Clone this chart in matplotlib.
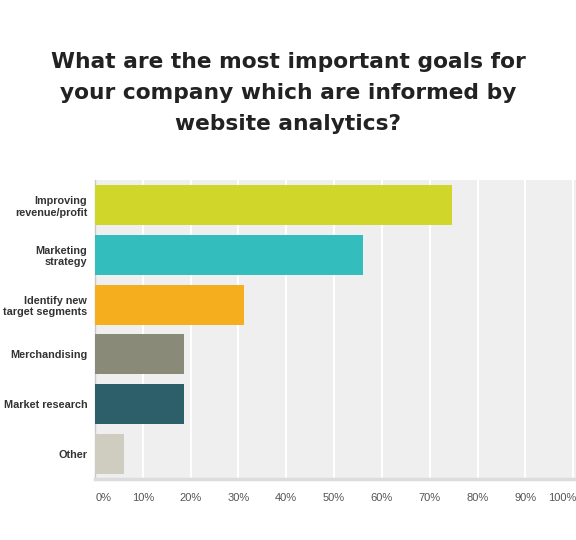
import matplotlib
matplotlib.use("Agg")
import matplotlib.pyplot as plt
from matplotlib.transforms import blended_transform_factory

categories = ["Improving\nrevenue/profit", "Marketing\nstrategy", "Identify new\ntarget segments",
              "Merchandising", "Market research", "Other"]
values = [74.7, 56.0, 31.1, 18.6, 18.6, 6.1]
colors = ["#D0D62A", "#33BDBD", "#F5AF1E", "#898A78", "#2D5F6B", "#CFCDC0"]
tick_values = [0, 10, 20, 30, 40, 50, 60, 70, 80, 90, 100]
tick_labels = ["0%", "10%", "20%", "30%", "40%", "50%", "60%", "70%", "80%", "90%", "100%"]
title = "What are the most important goals for\nyour company which are informed by\nwebsite analytics?"

W, H = 576, 540
fig = plt.figure(figsize=(W / 100, H / 100), dpi=100)
fig.patch.set_facecolor("white")
ax = fig.add_axes([95 / W, 1 - 479 / H, (576 - 95) / W, (479 - 180) / H])
ax.set_facecolor("#EFEFEF")

y = list(range(len(categories)))
ax.barh(y, values, height=0.8, color=colors, zorder=3)
ax.set_ylim(len(categories) - 0.5, -0.5)
ax.set_xlim(0, 100.6)

for t in tick_values[1:]:
    ax.axvline(t, color="white", lw=1.5, zorder=1)

for s in ["top", "right"]:
    ax.spines[s].set_visible(False)
ax.spines["left"].set_color("#C8C8C8")
ax.spines["left"].set_linewidth(1.0)
ax.spines["bottom"].set_color("#DCDCDC")
ax.spines["bottom"].set_linewidth(2.5)

ax.set_xticks([])
ax.set_yticks(y)
ax.set_yticklabels(categories, fontsize=7.8, fontweight="bold", color="#333333",
                   family="Liberation Sans", linespacing=1.2)
ax.tick_params(axis="y", length=0, pad=5.5)

trans = blended_transform_factory(ax.transData, ax.transAxes)
for v, lab in zip(tick_values, tick_labels):
    ha = "center"
    xpos = v
    if v == 0:
        ha = "left"
        xpos = 0.1
    elif v == 100:
        ha = "right"
        xpos = 100.6
    ax.text(xpos, -19 / 299, lab, transform=trans, ha=ha, va="center",
            fontsize=8, color="#555555", family="Liberation Sans")

fig.text(288 / W, 1 - 93 / H, title, ha="center", va="center", fontsize=15.7,
         fontweight="bold", color="#222222", family="DejaVu Sans", linespacing=1.68)

fig.savefig("out.png", dpi=100, facecolor="white")
